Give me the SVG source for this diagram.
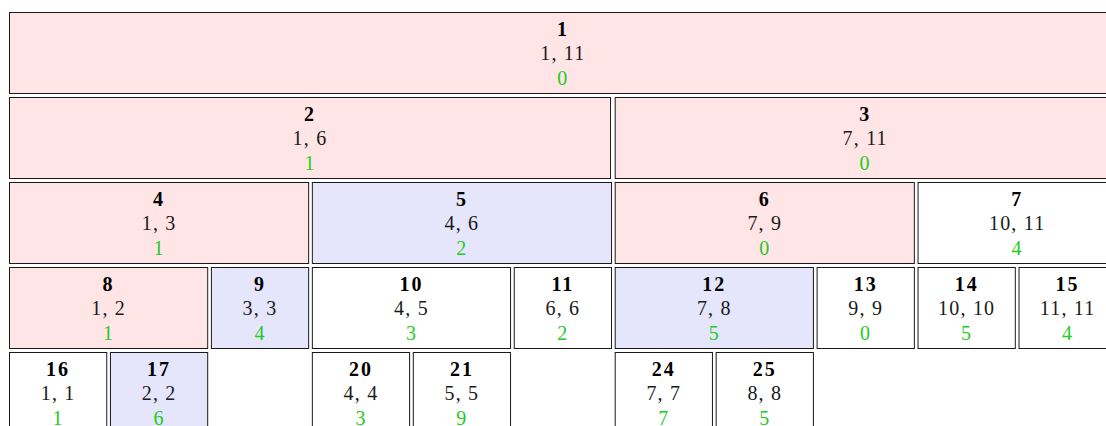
<svg xmlns="http://www.w3.org/2000/svg" width="1106" height="426" viewBox="0 0 1106 426">
<style>
rect{stroke:#1a1a1a;stroke-width:1}
.p{fill:#ffe5e5}
.b{fill:#e5e5fc}
.w{fill:#ffffff}
text{font-family:"Liberation Serif","Times New Roman",serif;font-size:20px;text-anchor:middle;letter-spacing:1.2px}
.n{font-weight:bold;fill:#000;letter-spacing:2px}
.r{fill:#1a1a1a}
.v{fill:#22cc22}
</style>
<g id="node1"><rect class="p" x="9.5" y="12.5" width="1106.75" height="81"/><text class="n" x="562.9" y="35.5">1</text><text class="r" x="562.9" y="60">1, 11</text><text class="v" x="562.9" y="85">0</text></g>
<g id="node2"><rect class="p" x="9.5" y="97.5" width="601" height="81"/><text class="n" x="310" y="120.5">2</text><text class="r" x="310" y="145">1, 6</text><text class="v" x="310" y="170">1</text></g>
<g id="node3"><rect class="p" x="615.2" y="97.5" width="500.05" height="81"/><text class="n" x="865.2" y="120.5">3</text><text class="r" x="865.2" y="145">7, 11</text><text class="v" x="865.2" y="170">0</text></g>
<g id="node4"><rect class="p" x="9.5" y="182.5" width="299.15" height="81"/><text class="n" x="159.1" y="205.5">4</text><text class="r" x="159.1" y="230">1, 3</text><text class="v" x="159.1" y="255">1</text></g>
<g id="node5"><rect class="b" x="312.35" y="182.5" width="299.15" height="81"/><text class="n" x="461.9" y="205.5">5</text><text class="r" x="461.9" y="230">4, 6</text><text class="v" x="461.9" y="255">2</text></g>
<g id="node6"><rect class="p" x="615.2" y="182.5" width="299.15" height="81"/><text class="n" x="764.8" y="205.5">6</text><text class="r" x="764.8" y="230">7, 9</text><text class="v" x="764.8" y="255">0</text></g>
<g id="node7"><rect class="w" x="918.05" y="182.5" width="198.2" height="81"/><text class="n" x="1017.2" y="205.5">7</text><text class="r" x="1017.2" y="230">10, 11</text><text class="v" x="1017.2" y="255">4</text></g>
<g id="node8"><rect class="p" x="9.5" y="267.5" width="198.2" height="81"/><text class="n" x="108.6" y="290.5">8</text><text class="r" x="108.6" y="315">1, 2</text><text class="v" x="108.6" y="340">1</text></g>
<g id="node9"><rect class="b" x="211.4" y="267.5" width="97.25" height="81"/><text class="n" x="260" y="290.5">9</text><text class="r" x="260" y="315">3, 3</text><text class="v" x="260" y="340">4</text></g>
<g id="node10"><rect class="w" x="312.35" y="267.5" width="198.2" height="81"/><text class="n" x="411.5" y="290.5">10</text><text class="r" x="411.5" y="315">4, 5</text><text class="v" x="411.5" y="340">3</text></g>
<g id="node11"><rect class="w" x="514.25" y="267.5" width="97.25" height="81"/><text class="n" x="562.9" y="290.5">11</text><text class="r" x="562.9" y="315">6, 6</text><text class="v" x="562.9" y="340">2</text></g>
<g id="node12"><rect class="b" x="615.2" y="267.5" width="198.2" height="81"/><text class="n" x="714.3" y="290.5">12</text><text class="r" x="714.3" y="315">7, 8</text><text class="v" x="714.3" y="340">5</text></g>
<g id="node13"><rect class="w" x="817.1" y="267.5" width="97.25" height="81"/><text class="n" x="865.7" y="290.5">13</text><text class="r" x="865.7" y="315">9, 9</text><text class="v" x="865.7" y="340">0</text></g>
<g id="node14"><rect class="w" x="918.05" y="267.5" width="97.25" height="81"/><text class="n" x="966.7" y="290.5">14</text><text class="r" x="966.7" y="315">10, 10</text><text class="v" x="966.7" y="340">5</text></g>
<g id="node15"><rect class="w" x="1019" y="267.5" width="97.25" height="81"/><text class="n" x="1067.6" y="290.5">15</text><text class="r" x="1067.6" y="315">11, 11</text><text class="v" x="1067.6" y="340">4</text></g>
<g id="node16"><rect class="w" x="9.5" y="352.5" width="97.25" height="81"/><text class="n" x="58.1" y="375.5">16</text><text class="r" x="58.1" y="400">1, 1</text><text class="v" x="58.1" y="425">1</text></g>
<g id="node17"><rect class="b" x="110.45" y="352.5" width="97.25" height="81"/><text class="n" x="159.1" y="375.5">17</text><text class="r" x="159.1" y="400">2, 2</text><text class="v" x="159.1" y="425">6</text></g>
<g id="node20"><rect class="w" x="312.35" y="352.5" width="97.25" height="81"/><text class="n" x="361" y="375.5">20</text><text class="r" x="361" y="400">4, 4</text><text class="v" x="361" y="425">3</text></g>
<g id="node21"><rect class="w" x="413.3" y="352.5" width="97.25" height="81"/><text class="n" x="461.9" y="375.5">21</text><text class="r" x="461.9" y="400">5, 5</text><text class="v" x="461.9" y="425">9</text></g>
<g id="node24"><rect class="w" x="615.2" y="352.5" width="97.25" height="81"/><text class="n" x="663.8" y="375.5">24</text><text class="r" x="663.8" y="400">7, 7</text><text class="v" x="663.8" y="425">7</text></g>
<g id="node25"><rect class="w" x="716.15" y="352.5" width="97.25" height="81"/><text class="n" x="764.8" y="375.5">25</text><text class="r" x="764.8" y="400">8, 8</text><text class="v" x="764.8" y="425">5</text></g>
<g id="connectors"></g>
</svg>
